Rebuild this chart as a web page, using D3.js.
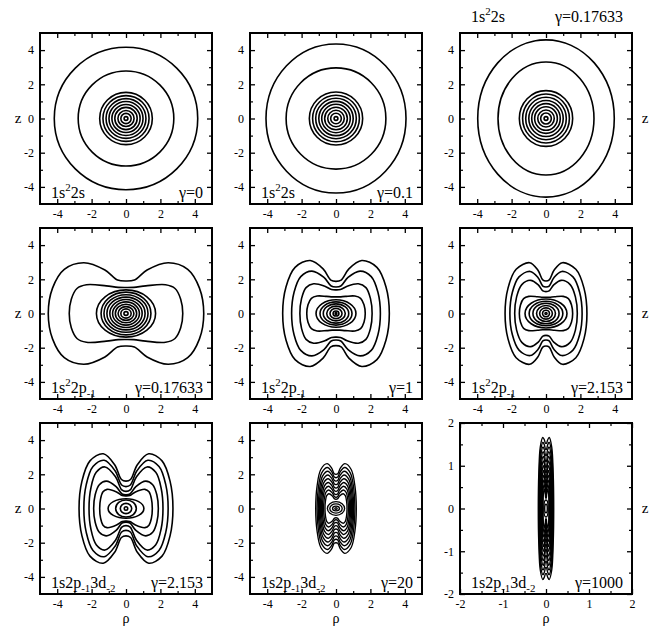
<!DOCTYPE html>
<html>
<head>
<meta charset="utf-8">
<script src="https://cdn.jsdelivr.net/npm/d3@7"></script>
<style>
  body { margin: 0; background: #fff; }
  svg { display: block; }
  svg text { font-family: 'Liberation Serif', 'DejaVu Serif', serif; }
</style>
</head>
<body>
<svg id="chart" width="657" height="626"></svg>
<script>
// elliptic contours: [rho radius, z radius]
var rings_1s22s_g0 = [[4.17,4.17],[2.78,2.78],[1.53,1.53],[1.34,1.34],[1.16,1.16],[0.99,0.99],[0.82,0.82],[0.65,0.65],[0.47,0.47],[0.30,0.30],[0.11,0.11]]
var rings_1s22s_g01 = [[4.07,4.36],[2.9,2.96],[1.55,1.55],[1.36,1.36],[1.18,1.18],[1.0,1.0],[0.83,0.83],[0.66,0.66],[0.48,0.48],[0.31,0.31],[0.11,0.11]]
var rings_1s22s_g017 = [[3.97,4.6],[2.79,3.3],[1.55,1.63],[1.36,1.43],[1.18,1.24],[1.0,1.05],[0.83,0.87],[0.66,0.69],[0.48,0.5],[0.31,0.32],[0.11,0.11]]
var rings_2p_g017 = [[1.72,1.38],[1.45,1.25],[1.28,1.1],[1.11,0.96],[0.94,0.82],[0.78,0.68],[0.62,0.54],[0.46,0.4],[0.3,0.27],[0.12,0.11]]
var rings_2p_g1 = [[1.16,0.8],[0.93,0.68],[0.74,0.56],[0.54,0.43],[0.35,0.3],[0.17,0.15],[0.05,0.05]]
var rings_2p_g2 = [[1.22,0.85],[0.98,0.72],[0.76,0.6],[0.55,0.47],[0.37,0.33],[0.2,0.19],[0.06,0.06]]
var rings_3d_g2 = [[1.04,0.57],[0.6,0.5],[0.33,0.3],[0.1,0.1]]
var rings_3d_g20 = [[0.5,0.4],[0.36,0.27],[0.2,0.14],[0.07,0.05]]
var rings_3d_g1000 = [[0.05,0.2],[0.03,0.1]]

// lobed contours: [rho at z=0, lobe rho, lobe top z, waist z at rho=0]
var lobes_2p_g017 = [[4.52,2.45,2.97,1.9],[3.3,2.3,1.68,1.52]]
var lobes_2p_g1 = [[3.1,1.5,3.1,1.88],[2.58,1.4,2.48,1.55],[2.1,1.3,1.74,1.38],[1.7,1.1,1.02,0.97]]
var lobes_2p_g2 = [[2.38,0.95,2.97,1.9],[2.1,0.92,2.46,1.55],[1.82,0.9,1.94,1.28],[1.55,1.0,1.0,0.95]]
var lobes_3d_g2 = [[2.73,1.32,3.2,1.6],[2.45,1.27,2.82,1.28],[2.15,1.22,2.43,1.0],[1.88,1.15,1.6,0.8],[1.53,1.1,1.12,0.74]]
var lobes_3d_g20 = [[1.18,0.52,2.62,2.0],[1.1,0.5,2.4,1.8],[1.03,0.48,2.18,1.6],[0.97,0.47,1.96,1.4],[0.91,0.46,1.74,1.2],[0.85,0.45,1.52,1.0],[0.79,0.44,1.3,0.82],[0.72,0.43,1.08,0.66],[0.64,0.42,0.86,0.54]]
var lobes_3d_g1000 = [[0.18,0.075,1.66,1.52],[0.17,0.072,1.55,1.38],[0.16,0.069,1.44,1.24],[0.15,0.066,1.33,1.1],[0.14,0.063,1.22,0.96],[0.13,0.06,1.11,0.84],[0.12,0.057,1.0,0.72],[0.11,0.054,0.89,0.6],[0.1,0.05,0.78,0.5],[0.09,0.046,0.67,0.4],[0.08,0.042,0.56,0.32],[0.07,0.038,0.45,0.24]]

// labels
var stateLabels = [
  [["1s"],["2","sup"],["2s"]],
  [["1s"],["2","sup"],["2s"]],
  [["1s"],["2","sup"],["2s"]],
  [["1s"],["2","sup"],["2p"],["-1","sub"]],
  [["1s"],["2","sup"],["2p"],["-1","sub"]],
  [["1s"],["2","sup"],["2p"],["-1","sub"]],
  [["1s2p"],["-1","sub"],["3d"],["-2","sub"]],
  [["1s2p"],["-1","sub"],["3d"],["-2","sub"]],
  [["1s2p"],["-1","sub"],["3d"],["-2","sub"]]
]
var gammaLabels = ["γ=0", "γ=0.1", "γ=0.17633", "γ=0.17633", "γ=1", "γ=2.153", "γ=2.153", "γ=20", "γ=1000"]
var wideTicks = [-4, -2, 0, 2, 4]
var wideMinor = [-3, -1, 1, 3]
var narrowTicks = [-2, -1, 0, 1, 2]
var narrowMinor = [-1.5, -0.5, 0.5, 1.5]

var ringSets = [rings_1s22s_g0, rings_1s22s_g01, rings_1s22s_g017, rings_2p_g017, rings_2p_g1, rings_2p_g2, rings_3d_g2, rings_3d_g20, rings_3d_g1000]
var lobeSets = [[], [], [], lobes_2p_g017, lobes_2p_g1, lobes_2p_g2, lobes_3d_g2, lobes_3d_g20, lobes_3d_g1000]

var colX = [40, 250, 460]
var rowY = [33, 228, 423]
var W = 172, H = 171
var serif = "'Liberation Serif', 'DejaVu Serif', serif"

var svg = d3.select("#chart")

// quadrant control points of one lobed contour, mirrored to a closed loop
function lobeLoop(c) {
  var a = c[0], lr = c[1], lz = c[2], w = c[3]
  var q = [
    [a, 0],
    [a - (a - lr) * 0.12, lz * 0.5],
    [lr + (a - lr) * 0.55, lz * 0.87],
    [lr, lz],
    [lr * 0.5, (lz + w) / 2 + (lz - w) * 0.1],
    [lr * 0.2, w + (lz - w) * 0.06],
    [0, w]
  ]
  var pts = q.slice()
  for (var i = q.length - 2; i >= 0; i--) pts.push([-q[i][0], q[i][1]])
  for (var i = 1; i < q.length; i++) pts.push([-q[i][0], -q[i][1]])
  for (var i = q.length - 2; i >= 1; i--) pts.push([q[i][0], -q[i][1]])
  return pts
}

function richText(t, parts, size) {
  var shift = 0
  parts.forEach(function (p) {
    var target = 0, fs = size
    if (p[1] == "sup") { target = -size * 0.42; fs = size * 0.68 }
    if (p[1] == "sub") { target = size * 0.25; fs = size * 0.68 }
    t.append("tspan").attr("font-size", fs).attr("dy", target - shift).text(p[0])
    shift = target
  })
}

for (var k = 0; k < 9; k++) {
  var row = Math.floor(k / 3), col = k % 3
  var lim = k == 8 ? 2 : 5
  var major = k == 8 ? narrowTicks : wideTicks
  var minor = k == 8 ? narrowMinor : wideMinor

  var x = d3.scaleLinear().domain([-lim, lim]).range([0, W])
  var y = d3.scaleLinear().domain([-lim, lim]).range([H, 0])

  var g = svg.append("g").attr("transform", "translate(" + colX[col] + "," + rowY[row] + ")")

  // axes: ticks inward on all sides, labels left and bottom
  var fmt = function (d) { return String(d) }
  var axes = [
    [d3.axisBottom(x), "translate(0," + H + ")", true, 5],
    [d3.axisLeft(y), "translate(0,0)", true, 6],
    [d3.axisTop(x), "translate(0,0)", false, 7],
    [d3.axisRight(y), "translate(" + W + ",0)", false, 7]
  ]
  axes.forEach(function (ax) {
    var gm = g.append("g").attr("transform", ax[1])
      .call(ax[0].tickValues(major).tickSizeInner(-5).tickSizeOuter(0)
        .tickPadding(ax[3]).tickFormat(ax[2] ? fmt : ""))
    gm.select(".domain").remove()
    gm.attr("font-family", serif).attr("font-size", 12)
    gm.selectAll("line").attr("stroke-width", 1.3)
    gm.selectAll("text").attr("fill", "#000")
  })
  axes.forEach(function (ax) {
    var gm = g.append("g").attr("transform", ax[1])
      .call(ax[0].tickValues(minor).tickSizeInner(-3).tickSizeOuter(0).tickFormat(""))
    gm.select(".domain").remove()
    gm.selectAll("line").attr("stroke-width", 1.2)
  })

  var lw = k >= 7 ? 1.35 : 1.6

  // elliptic contours
  g.selectAll("ellipse.ring")
    .data(ringSets[k])
    .enter()
    .append("ellipse")
    .attr("cx", x(0))
    .attr("cy", y(0))
    .attr("rx", function (d) { return x(d[0]) - x(0) })
    .attr("ry", function (d) { return y(0) - y(d[1]) })
    .attr("fill", "none")
    .attr("stroke", "#000")
    .attr("stroke-width", lw)

  // lobed contours
  var line = d3.line()
    .x(function (d) { return x(d[0]) })
    .y(function (d) { return y(d[1]) })
    .curve(d3.curveCatmullRomClosed.alpha(0.5))
  g.selectAll("path.lobe")
    .data(lobeSets[k])
    .enter()
    .append("path")
    .attr("class", "lobe")
    .attr("d", function (d) { return line(lobeLoop(d)) })
    .attr("fill", "none")
    .attr("stroke", "#000")
    .attr("stroke-width", lw)

  // frame
  g.append("rect")
    .attr("width", W).attr("height", H)
    .attr("fill", "none").attr("stroke", "#000").attr("stroke-width", 2)

  // annotations
  var labY = k == 2 ? -11 : H - 6
  var st = g.append("text")
    .attr("x", 11).attr("y", labY)
    .attr("font-family", serif).attr("font-size", 16)
  richText(st, stateLabels[k], 16)
  g.append("text")
    .attr("x", W - 9).attr("y", labY)
    .attr("text-anchor", "end")
    .attr("font-family", serif).attr("font-size", 16)
    .text(gammaLabels[k])

  // axis titles
  if (col == 0) {
    g.append("text").attr("x", -22).attr("y", y(0)).attr("dy", "0.32em")
      .attr("text-anchor", "middle").attr("font-family", serif).attr("font-size", 15).text("z")
  }
  if (col == 2) {
    g.append("text").attr("x", W + 13).attr("y", y(0)).attr("dy", "0.32em")
      .attr("text-anchor", "middle").attr("font-family", serif).attr("font-size", 15).text("z")
  }
  if (row == 2) {
    g.append("text").attr("x", x(0)).attr("y", H + 29)
      .attr("text-anchor", "middle").attr("font-family", serif).attr("font-size", 14).text("ρ")
  }
}
</script>
</body>
</html>
